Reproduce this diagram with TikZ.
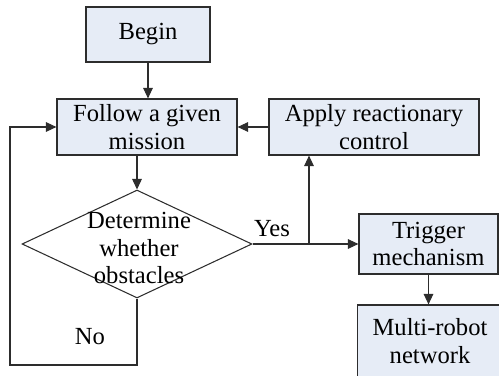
\documentclass[tikz,border=0pt]{standalone}
\usepackage{fontspec}
\setmainfont{Liberation Serif}
\usetikzlibrary{shapes.geometric,arrows.meta,positioning,calc}
\definecolor{boxfill}{RGB}{230,236,246}
\definecolor{linegray}{RGB}{45,45,45}
\tikzset{
  box/.style={draw=linegray, line width=0.7pt, fill=boxfill, align=center, inner sep=1pt},
  decision/.style={diamond, draw=linegray, line width=0.6pt, inner sep=0pt},
  arrow/.style={draw=linegray, line width=0.6pt, -{Triangle[length=6pt,width=5.5pt]}},
  line/.style={draw=linegray, line width=0.6pt}
}

\begin{document}
\begin{tikzpicture}[x=0.02cm, y=-0.02cm, font=\fontsize{14}{15.5}\selectfont]
    \useasboundingbox (0,0) rectangle (499,375);
    \clip (0,0) rectangle (499,375);

    % boxes
    \node[box, minimum width=2.48cm, minimum height=1.1cm] (begin) at (148,34.5) {Begin};
    \node[box, minimum width=3.6cm, minimum height=1.12cm] (follow) at (147,127) {Follow a given\\mission};
    \node[box, minimum width=4.2cm, minimum height=1.12cm] (apply) at (374,127) {Apply reactionary\\control};
    \node[decision, minimum width=4.6cm, minimum height=2.16cm] (decide) at (137,244) {};
    \node[align=center] (decideText) at (139,248) {Determine\\whether\\obstacles};
    \node[box, minimum width=2.78cm, minimum height=1.2cm] (trigger) at (428.5,244) {Trigger\\mechanism};
    \node[box, minimum width=2.9cm, minimum height=1.44cm] (network) at (430,341) {Multi-robot\\network};

    % labels
    \node (yes) at (272,229) {Yes};
    \node (no) at (90,337) {No};

    % connectors
    \coordinate (split) at (309,244);
    \coordinate (noturn) at (10,365);
    \draw[arrow] (begin.south) -- (begin.south |- follow.north);
    \draw[arrow] (follow.south -| decide.north) -- (decide.north);
    \draw[arrow] (apply.west) -- (follow.east);
    \draw[arrow] (decide.east) -- (trigger.west);
    \draw[arrow] (split) -- (split |- apply.south);
    \draw[arrow] (trigger.south) -- (trigger.south |- network.north);
    \draw[arrow] (decide.south) |- (noturn) |- (follow.west);
\end{tikzpicture}
\end{document}
